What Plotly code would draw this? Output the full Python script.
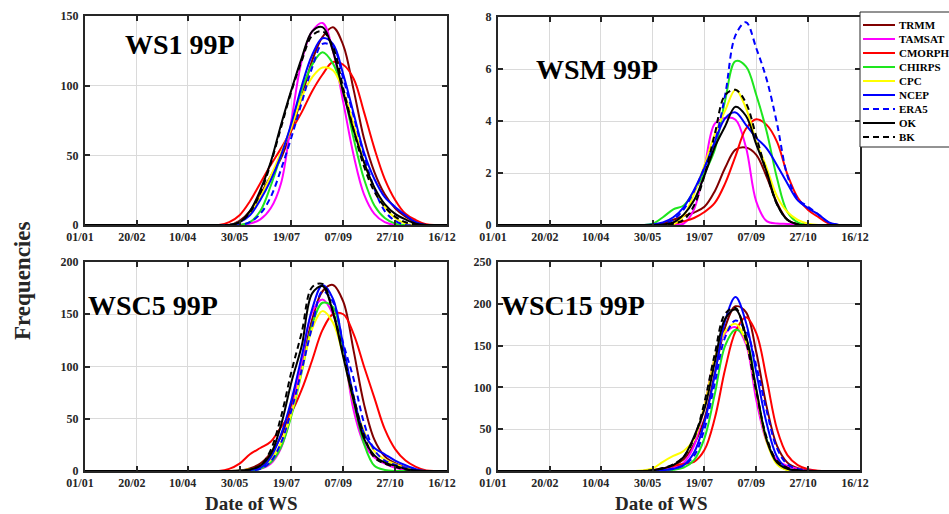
import plotly.graph_objects as go

# Day-of-year grid (01/01 = 1)
DAYS = [1, 130, 140, 150, 160, 170, 180, 190, 200, 210, 220, 230, 240, 250,
        260, 270, 280, 290, 300, 310, 320, 330, 340, 350]

TICK_DAYS = [1, 51, 100, 150, 200, 250, 300, 350]
TICK_LABELS = ["01/01", "20/02", "10/04", "30/05", "19/07", "07/09", "27/10", "16/12"]

SERIES = ["TRMM", "TAMSAT", "CMORPH", "CHIRPS", "CPC", "NCEP", "ERA5", "OK", "BK"]

# ---------------- WS1 99P ----------------
ws1_trmm   = [0, 0, 0, 3, 10, 22, 35, 48, 68, 92, 118, 135, 142, 129, 97, 62, 38, 22, 12, 6, 2, 0, 0, 0]
ws1_tamsat = [0, 0, 0, 0, 1, 4, 12, 30, 75, 118, 139, 145, 125, 88, 50, 22, 8, 2, 0, 0, 0, 0, 0, 0]
ws1_cmorph = [0, 0, 2, 7, 17, 30, 43, 55, 68, 81, 96, 108, 117, 115, 105, 81, 55, 33, 18, 8, 3.5, 0.5, 0, 0]
ws1_chirps = [0, 0, 0, 0, 2, 10, 28, 50, 72, 97, 115, 124, 116, 96, 62, 33, 14, 5, 1, 0, 0, 0, 0, 0]
ws1_cpc    = [0, 0, 0, 2, 8, 20, 35, 52, 70, 92, 106, 113, 111, 96, 72, 45, 26, 13, 5, 1, 0, 0, 0, 0]
ws1_ncep   = [0, 0, 0, 2, 7, 18, 32, 50, 73, 100, 122, 134, 130, 108, 80, 52, 33, 20, 13, 7, 2, 0, 0, 0]
ws1_era5   = [0, 0, 0, 0, 2, 8, 20, 40, 63, 88, 113, 130, 128, 105, 78, 50, 26, 10, 3, 0, 0, 0, 0, 0]
ws1_ok     = [0, 0, 0, 2, 10, 25, 45, 72, 97, 120, 139, 142, 125, 95, 68, 45, 27, 15, 8, 4, 1, 0, 0, 0]
ws1_bk     = [0, 0, 0, 2, 9, 23, 44, 70, 96, 118, 136, 139, 128, 98, 68, 42, 24, 13, 6, 2, 0.5, 0, 0, 0]

# ---------------- WSM 99P ----------------
wsm_trmm   = [0, 0, 0, 0, 0.05, 0.2, 0.35, 0.48, 0.7, 1.3, 2.2, 2.9, 2.98, 2.7, 1.85, 0.85, 0.2, 0.02, 0, 0, 0, 0, 0, 0]
wsm_tamsat = [0, 0, 0, 0, 0, 0, 0.05, 0.6, 2.2, 3.9, 4.12, 4.05, 3.0, 0.9, 0.15, 0.06, 0.04, 0.02, 0, 0, 0, 0, 0, 0]
wsm_cmorph = [0, 0, 0, 0, 0.02, 0.05, 0.14, 0.27, 0.5, 0.85, 1.6, 2.65, 3.7, 4.07, 3.85, 3.2, 1.95, 1.05, 0.58, 0.3, 0.06, 0, 0, 0]
wsm_chirps = [0, 0, 0, 0.05, 0.3, 0.6, 0.75, 1.3, 2.0, 2.9, 4.8, 6.3, 6.1, 5.0, 3.6, 1.8, 0.5, 0.1, 0, 0, 0, 0, 0, 0]
wsm_cpc    = [0, 0, 0, 0, 0, 0.03, 0.35, 1.2, 2.3, 3.5, 4.4, 5.2, 4.5, 3.2, 2.2, 1.1, 0.5, 0.2, 0.05, 0, 0, 0, 0, 0]
wsm_ncep   = [0, 0, 0, 0.02, 0.1, 0.3, 0.68, 1.35, 2.2, 3.2, 4.1, 4.33, 3.85, 3.35, 2.95, 2.3, 1.6, 0.95, 0.65, 0.4, 0.1, 0, 0, 0]
wsm_era5   = [0, 0, 0, 0, 0.03, 0.2, 0.6, 1.3, 2.2, 3.2, 5.0, 7.3, 7.8, 6.8, 5.6, 3.9, 1.9, 1.0, 0.7, 0.4, 0.1, 0, 0, 0]
wsm_ok     = [0, 0, 0, 0, 0.02, 0.1, 0.4, 0.95, 1.9, 3.0, 3.8, 4.55, 4.2, 3.1, 2.05, 0.8, 0.2, 0.02, 0, 0, 0, 0, 0, 0]
wsm_bk     = [0, 0, 0, 0, 0, 0.05, 0.2, 0.75, 1.9, 3.5, 5.0, 5.2, 4.7, 3.4, 2.0, 0.8, 0.2, 0.03, 0, 0, 0, 0, 0, 0]

# ---------------- WSC5 99P ----------------
wsc5_trmm   = [0, 0, 0, 0.5, 2.5, 7, 17, 33, 64, 102, 145, 172, 178, 162, 115, 64, 30, 14, 7.5, 3.5, 1, 0, 0, 0]
wsc5_tamsat = [0, 0, 0, 0, 0.5, 2, 7, 22, 57, 105, 152, 164, 150, 116, 58, 26, 13, 7, 3, 1, 0, 0, 0, 0]
wsc5_cmorph = [0, 0, 2, 7, 16, 22, 28, 42, 56, 78, 106, 135, 150, 150, 131, 100, 70, 40, 21, 10, 4, 0.5, 0, 0]
wsc5_chirps = [0, 0, 0, 0, 0.5, 2, 8, 23, 53, 95, 140, 161, 157, 115, 67, 26, 5, 1, 0, 0, 0, 0, 0, 0]
wsc5_cpc    = [0, 0, 0, 0.5, 1.6, 4, 11, 27, 55, 96, 136, 153, 142, 110, 66, 38, 19, 11, 6.5, 3, 1, 0, 0, 0]
wsc5_ncep   = [0, 0, 0, 0.2, 1, 3, 13, 35, 68, 110, 155, 178, 165, 120, 71, 36, 22, 16, 10, 5.5, 1.8, 0, 0, 0]
wsc5_era5   = [0, 0, 0, 0, 0.5, 2, 9, 27, 58, 97, 138, 172, 162, 122, 88, 46, 20, 10, 6, 3, 0.8, 0, 0, 0]
wsc5_ok     = [0, 0, 0, 0.3, 1.5, 5, 16, 44, 85, 120, 170, 177, 152, 109, 67, 31, 15, 8, 5, 2, 0.5, 0, 0, 0]
wsc5_bk     = [0, 0, 0, 0.3, 1.5, 5, 20, 52, 95, 133, 176, 179, 153, 112, 71, 34, 13, 7, 4, 1.5, 0.3, 0, 0, 0]

# ---------------- WSC15 99P ----------------
wsc15_trmm   = [0, 0, 0, 1, 3, 6.5, 14, 32, 62, 117, 172, 197, 190, 142, 77, 30, 10, 3.3, 0.8, 0, 0, 0, 0, 0]
wsc15_tamsat = [0, 0, 0, 0.3, 1.5, 4, 10, 30, 78, 135, 165, 172, 152, 85, 35, 13, 6, 2.5, 0.5, 0, 0, 0, 0, 0]
wsc15_cmorph = [0, 0, 0, 1, 3, 6, 8.5, 11, 25, 63, 122, 167, 184, 165, 110, 50, 19, 7, 2, 0.3, 0, 0, 0, 0]
wsc15_chirps = [0, 0, 0, 0, 0.5, 1.5, 4, 13, 39, 92, 150, 169, 158, 97, 38, 9, 1.5, 0, 0, 0, 0, 0, 0, 0]
wsc15_cpc    = [0, 0, 0.5, 3, 11, 18, 24, 38, 78, 135, 167, 176, 155, 95, 35, 8, 1, 0, 0, 0, 0, 0, 0, 0]
wsc15_ncep   = [0, 0, 0, 0.3, 1, 2.5, 7, 22, 58, 115, 180, 208, 178, 118, 57, 17, 3, 0.5, 0, 0, 0, 0, 0, 0]
wsc15_era5   = [0, 0, 0, 0.3, 1.2, 3, 7, 18, 50, 105, 160, 180, 168, 126, 72, 27, 8, 2.5, 0.5, 0, 0, 0, 0, 0]
wsc15_ok     = [0, 0, 0, 0.8, 3, 7, 17, 41, 74, 130, 182, 193, 162, 98, 37, 10, 2.5, 0.6, 0, 0, 0, 0, 0, 0]
wsc15_bk     = [0, 0, 0, 1, 3.5, 8, 17, 39, 82, 140, 188, 195, 156, 95, 40, 12, 4, 1, 0, 0, 0, 0, 0, 0]

PANELS = [
    ("WS1 99P", [ws1_trmm, ws1_tamsat, ws1_cmorph, ws1_chirps, ws1_cpc, ws1_ncep, ws1_era5, ws1_ok, ws1_bk], [0, 150], [0, 50, 100, 150]),
    ("WSM 99P", [wsm_trmm, wsm_tamsat, wsm_cmorph, wsm_chirps, wsm_cpc, wsm_ncep, wsm_era5, wsm_ok, wsm_bk], [0, 8], [0, 2, 4, 6, 8]),
    ("WSC5 99P", [wsc5_trmm, wsc5_tamsat, wsc5_cmorph, wsc5_chirps, wsc5_cpc, wsc5_ncep, wsc5_era5, wsc5_ok, wsc5_bk], [0, 200], [0, 50, 100, 150, 200]),
    ("WSC15 99P", [wsc15_trmm, wsc15_tamsat, wsc15_cmorph, wsc15_chirps, wsc15_cpc, wsc15_ncep, wsc15_era5, wsc15_ok, wsc15_bk], [0, 250], [0, 50, 100, 150, 200, 250]),
]

COLORS = ["#800000", "#ff00ff", "#ff0000", "#1ee61e", "#ffff00", "#0000ff", "#0000ff", "#000000", "#000000"]
DASHES = ["solid", "solid", "solid", "solid", "solid", "solid", "6px,4px", "solid", "6px,4px"]

W, H = 949, 514
FONT = "Liberation Serif"
DARK = "#262626"

# panel boxes in pixels: (x0, x1, ytop, ybottom)
BOXES = [(85, 447, 16, 225), (498, 860, 17, 225), (85, 447, 262, 471), (498, 860, 262, 471)]
TITLE_POS = [(180, 44), (597, 70), (153, 305), (573, 305)]

fig = go.Figure()
layout_axes = {}
annotations = []
for i, (title, vals, yr, yt) in enumerate(PANELS):
    k = "" if i == 0 else str(i + 1)
    for name, v, c, d in zip(SERIES, vals, COLORS, DASHES):
        fig.add_trace(go.Scatter(
            x=DAYS, y=v, name=name, mode="lines",
            line=dict(color=c, width=2, dash=d, shape="spline", smoothing=1.0),
            xaxis="x" + k, yaxis="y" + k, showlegend=False))
    x0, x1, yt_px, yb_px = BOXES[i]
    common = dict(showline=True, linecolor=DARK, linewidth=2, mirror="ticks",
                  ticks="inside", ticklen=5, tickwidth=1.5, tickcolor=DARK,
                  showgrid=True, gridcolor="#dadada", gridwidth=1, zeroline=False,
                  automargin=False,
                  tickfont=dict(family=FONT, size=12, color=DARK, weight="bold"))
    layout_axes["xaxis" + k] = dict(common, domain=[x0 / W, x1 / W], anchor="y" + k,
                                    range=[1, 350], tickmode="array", tickvals=TICK_DAYS,
                                    ticktext=TICK_LABELS, ticklabelshift=-5)
    layout_axes["yaxis" + k] = dict(common, domain=[1 - yb_px / H, 1 - yt_px / H], anchor="x" + k,
                                    range=yr, tickmode="array", tickvals=yt, ticklabelstandoff=2)
    tx, ty = TITLE_POS[i]
    annotations.append(dict(text=title, x=tx / W, y=1 - ty / H, xref="paper", yref="paper",
                            xanchor="center", yanchor="middle", showarrow=False,
                            font=dict(family=FONT, size=28, color="#000000", weight="bold")))

# axis titles
annotations.append(dict(text="Frequencies", x=22 / W, y=1 - 281 / H, xref="paper", yref="paper",
                        textangle=-90, showarrow=False, xanchor="center", yanchor="middle",
                        font=dict(family=FONT, size=23, color=DARK, weight="bold")))
for cx in (251, 661):
    annotations.append(dict(text="Date of WS", x=cx / W, y=1 - 503 / H, xref="paper", yref="paper",
                            showarrow=False, xanchor="center", yanchor="middle",
                            font=dict(family=FONT, size=19, color=DARK, weight="bold")))

# legend (drawn box)
shapes = [dict(type="rect", xref="paper", yref="paper", x0=860 / W, x1=952 / W,
               y0=1 - 147 / H, y1=1 - 12 / H, line=dict(color=DARK, width=1),
               fillcolor="white", layer="above")]
for j, (name, c, d) in enumerate(zip(SERIES, COLORS, DASHES)):
    yy = 1 - (25 + 14 * j) / H
    shapes.append(dict(type="line", xref="paper", yref="paper", x0=863 / W, x1=895 / W,
                       y0=yy, y1=yy, line=dict(color=c, width=2, dash=d), layer="above"))
    annotations.append(dict(text=name, x=897 / W, y=yy, xref="paper", yref="paper",
                            xanchor="left", yanchor="middle", showarrow=False,
                            font=dict(family=FONT, size=11, color="#000000", weight="bold")))

fig.update_layout(template="none", width=W, height=H,
                  margin=dict(l=0, r=0, t=0, b=0, pad=0, autoexpand=False),
                  paper_bgcolor="white", plot_bgcolor="white",
                  annotations=annotations, shapes=shapes, showlegend=False,
                  **layout_axes)

fig.write_html("out.html", config={"displayModeBar": False},
               post_script="document.body.style.margin='0';")
